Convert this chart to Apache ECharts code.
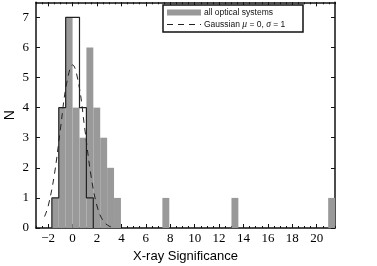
<!DOCTYPE html>
<html><head><meta charset="utf-8">
<script src="https://cdn.jsdelivr.net/npm/echarts@6/dist/echarts.min.js"></script>
<style>html,body{margin:0;padding:0;background:#fff}#c{width:377px;height:266px}</style>
</head><body><div id="c"></div>
<script>
// Histogram binning
const binStart = -1.7;
const binWidth = 0.566;
// gray histogram: all optical systems (41 bins)
const allCounts = [1,4,7,4,3,6,4,3,2,1,
                   0,0,0,0,0,0,1,0,0,0,
                   0,0,0,0,0,0,1,0,0,0,
                   0,0,0,0,0,0,0,0,0,0,
                   1];
// black step-outline histogram (same bins)
const subsetCounts = [1,4,7,7,4,1];
// dashed Gaussian curve
const gaussX = [-2.3,-2,-1.5,-1,-0.5,0,0.5,1,1.5,2,2.5,3,3.4];
const gaussY = [0.38,0.73,1.76,3.29,4.78,5.42,4.78,3.29,1.76,0.73,0.24,0.06,0.02];
const xTicks = [-2,0,2,4,6,8,10,12,14,16,18,20];
const yTicks = [0,1,2,3,4,5,6,7];
const legendNames = ['all optical systems', 'Gaussian'];

const barData = [];
allCounts.forEach((c,i)=>{ if(c>0) barData.push([binStart+i*binWidth, binStart+(i+1)*binWidth, c]); });
const stepPts = [[binStart,0]];
subsetCounts.forEach((c,i)=>{ const l=binStart+i*binWidth, r=l+binWidth; stepPts.push([l,c],[r,c]); });
stepPts.push([binStart+subsetCounts.length*binWidth,0]);
const gaussData = gaussX.map((x,i)=>[x,gaussY[i]]);

const XMIN=-3, XMAX=21.5, YMIN=0, YMAX=7.5;
const serif = 'Liberation Serif';
const sans = 'Liberation Sans';
const fmt = v => v<0 ? '\u2212'+Math.abs(v) : String(v);
const lineCol = '#111';
const axLine = {show:true, onZero:false, lineStyle:{color:lineCol, width:1.5}};

function majorX(pos, labels){
  return {type:'value', position:pos, min:XMIN, max:XMAX,
    axisLine:axLine,
    axisTick:{show:true, inside:true, length:4, customValues:xTicks, lineStyle:{color:lineCol, width:1}},
    axisLabel:{show:labels, customValues:xTicks, formatter:fmt, fontFamily:serif, fontSize:13, color:'#000', margin:4},
    splitLine:{show:false}};
}
function minorX(pos){
  return {type:'value', position:pos, min:XMIN, max:XMAX, interval:0.5,
    axisLine:{show:false, onZero:false}, axisTick:{show:true, inside:true, length:2, lineStyle:{color:lineCol, width:1}},
    axisLabel:{show:false}, splitLine:{show:false}};
}
function majorY(pos, labels){
  return {type:'value', position:pos, min:YMIN, max:YMAX,
    axisLine:axLine,
    axisTick:{show:true, inside:true, length:4, customValues:yTicks, lineStyle:{color:lineCol, width:1}},
    axisLabel:{show:labels, customValues:yTicks, fontFamily:serif, fontSize:13, color:'#000', margin:7},
    splitLine:{show:false}};
}

const xa0 = majorX('bottom', true);
Object.assign(xa0, {name:'X-ray Significance', nameLocation:'middle', nameGap:19,
  nameTextStyle:{fontFamily:sans, fontSize:13, color:'#000'}});
const ya0 = majorY('left', true);
Object.assign(ya0, {name:'N', nameLocation:'middle', nameGap:19, nameRotate:90, nameMoveOverlap:false,
  nameTextStyle:{fontFamily:sans, fontSize:14, color:'#000'}});

const chart = echarts.init(document.getElementById('c'), null, {renderer:'canvas'});
chart.setOption({
  animation:false,
  backgroundColor:'#fff',
  grid:{left:36, right:42, top:2.3, bottom:38, containLabel:false, outerBoundsMode:'none'},
  xAxis:[xa0, minorX('bottom'), majorX('top', false), minorX('top')],
  yAxis:[ya0, majorY('right', false)],
  series:[
    {type:'custom', name:legendNames[0], xAxisIndex:0, yAxisIndex:0, data:barData,
      encode:{x:[0,1], y:2},
      renderItem:function(params, api){
        const p0 = api.coord([api.value(0), api.value(2)]);
        const p1 = api.coord([api.value(1), 0]);
        return {type:'rect', shape:{x:p0[0], y:p0[1], width:p1[0]-p0[0], height:p1[1]-p0[1]},
          style:{fill:'#999999'}};
      }, z:2},
    {type:'line', name:'outline', xAxisIndex:0, yAxisIndex:0, data:stepPts, symbol:'none',
      lineStyle:{color:'#222', width:1.2}, z:3},
    {type:'line', name:legendNames[1], xAxisIndex:0, yAxisIndex:0, data:gaussData, symbol:'none', smooth:0.4,
      lineStyle:{color:'#222', width:1, type:[6,5]}, z:4}
  ],
  graphic:[
    {type:'rect', shape:{x:163, y:5, width:140, height:27}, style:{fill:'#fff', stroke:'#111', lineWidth:1.5}, z:10},
    {type:'rect', shape:{x:167, y:9.5, width:34, height:6}, style:{fill:'#999999'}, z:11},
    {type:'line', shape:{x1:167, y1:24.5, x2:201, y2:24.5}, style:{stroke:'#222', lineWidth:1, lineDash:[6,5]}, z:11},
    {type:'text', x:204, y:12.5, z:11, style:{text:legendNames[0], fontFamily:sans, fontSize:8.5, fill:'#111', verticalAlign:'middle'}},
    {type:'text', x:204, y:24.5, z:11, style:{text:legendNames[1]+' {i|\u03bc} = 0, {i|\u03c3} = 1', fontFamily:sans, fontSize:8.5, fill:'#111', verticalAlign:'middle',
      rich:{i:{fontFamily:serif, fontStyle:'italic', fontSize:9.5, fill:'#111'}}}}
  ]
});
</script></body></html>
